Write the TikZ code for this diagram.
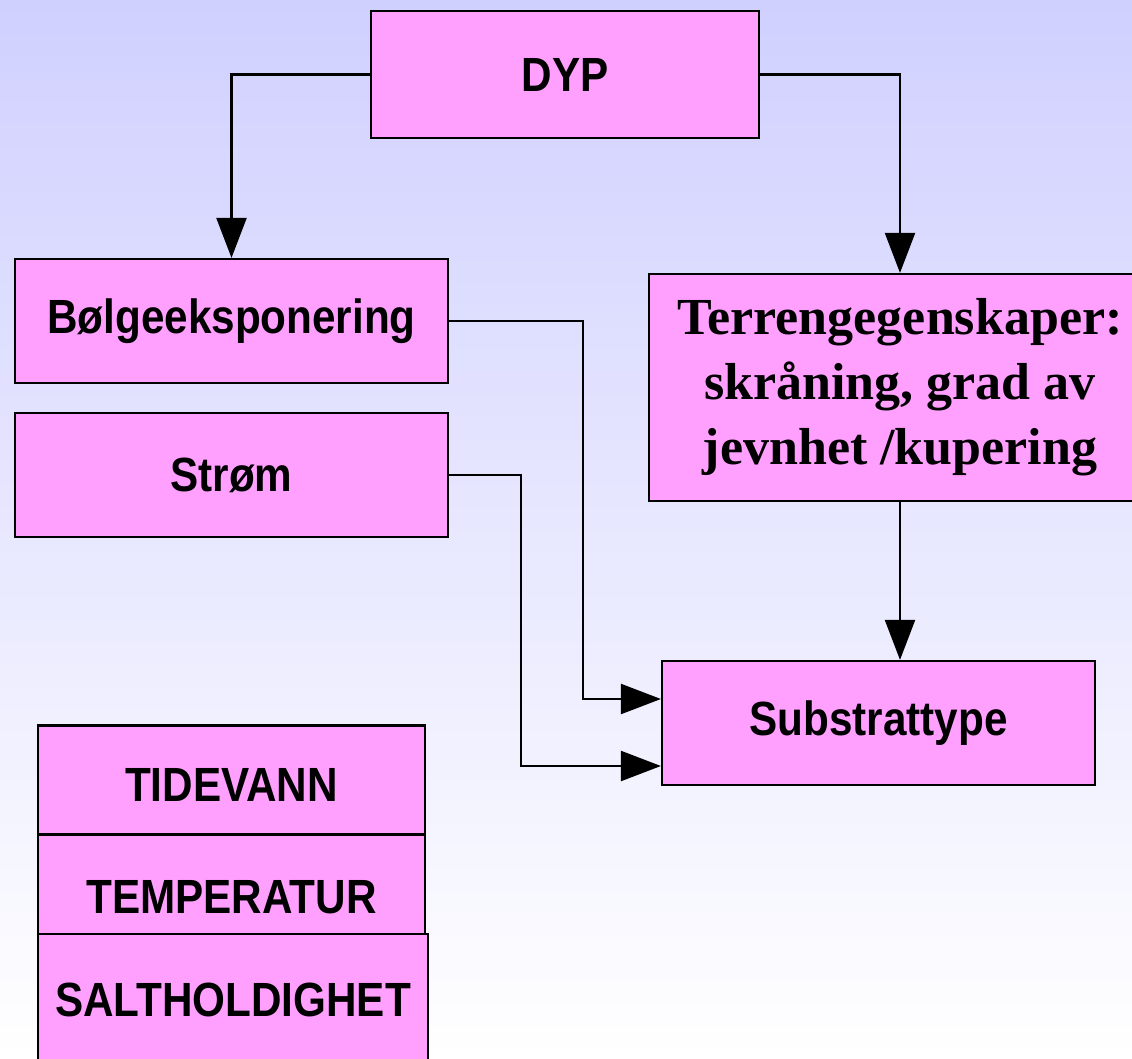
\documentclass[tikz,border=0pt]{standalone}
\usepackage{fontspec}
\setmainfont{Liberation Sans}[FakeStretch=0.88]
\newfontfamily\serifbox{Liberation Serif}
\usetikzlibrary{arrows.meta}

\definecolor{bgtop}{RGB}{208,208,255}
\definecolor{boxpink}{RGB}{255,160,255}

\tikzset{
    box/.style={draw=black, fill=boxpink, line width=2.2pt, inner sep=0pt,
        align=center, font=\fontsize{48}{56}\selectfont\bfseries},
    arr/.style={line width=2.2pt, -{Triangle[length=40pt,width=30pt]}},
    link/.style={line width=2.2pt}
}

\begin{document}
\begin{tikzpicture}[x=1pt,y=-1pt]
    % background
    \shade[top color=bgtop, bottom color=white] (0,0) rectangle (1132,1059);
    \useasboundingbox (0,0) rectangle (1132,1059);

    \node[box, minimum width=388pt, minimum height=127pt] (dyp) at (565,74.5) {DYP};
    \node[box, minimum width=433pt, minimum height=124pt] (boelge) at (231.5,321) {Bølgeeksponering};
    \node[box, minimum width=433pt, minimum height=124pt] (strom) at (231.5,475) {Strøm};
    \node[box, minimum width=502pt, minimum height=227pt,
        font=\fontsize{52}{65}\selectfont\serifbox\bfseries] (terreng) at (900,387.5)
        {Terrengegenskaper:\\skråning, grad av\\jevnhet /kupering};
    \node[box, minimum width=433pt, minimum height=124pt] (subst) at (878.5,723) {Substrattype};

    % the three boxes at the bottom left
    \node[box, minimum width=387pt, minimum height=109pt, text height=43pt, text depth=0pt]
        (tide) at (231.5,780) {TIDEVANN};
    \node[box, minimum width=387pt, minimum height=103pt, text height=55pt, text depth=0pt]
        (temp) at (231.5,886) {TEMPERATUR};
    \node[box, minimum width=390pt, minimum height=140pt, text height=34.4pt, text depth=9pt]
        (salt) at (233,1004) {SALTHOLDIGHET};

    \coordinate (inA) at ([yshift=24pt]subst.west);
    \coordinate (inB) at ([yshift=-43pt]subst.west);

    \draw[arr] (dyp.west) -| (boelge.north);
    \draw[arr] (dyp.east) -| (terreng.north);
    \draw[arr] (terreng.south) -- (terreng.south |- subst.north);
    \draw[arr] (boelge.east) -- ++(134,0) |- (inA);
    \draw[arr] (strom.east) -- ++(72,0) |- (inB);
\end{tikzpicture}
\end{document}
